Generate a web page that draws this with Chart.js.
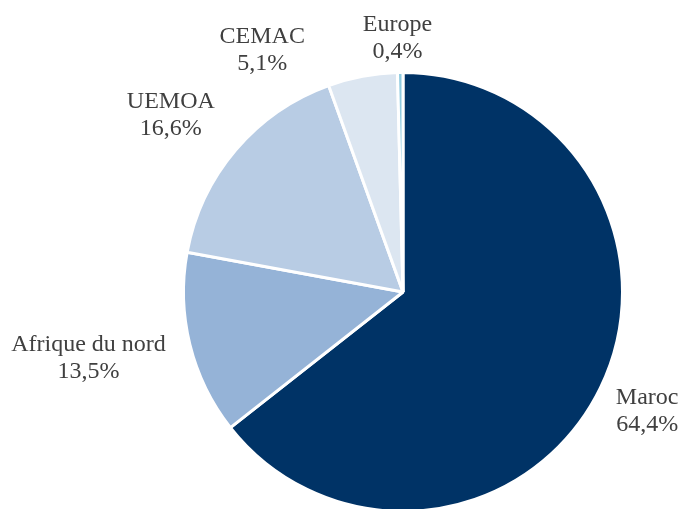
<!DOCTYPE html>
<html>
<head>
<meta charset="utf-8">
<script src="https://cdn.jsdelivr.net/npm/chart.js@4"></script>
<style>
  html, body { margin: 0; padding: 0; background: #fff; overflow: hidden; }
  #wrap { position: relative; width: 685px; height: 515px; }
</style>
</head>
<body>
<div id="wrap"><canvas id="pieChart"></canvas></div>
<script>
// data
const regions = ['Maroc', 'Afrique du nord', 'UEMOA', 'CEMAC', 'Europe'];
const shares = [64.4, 13.5, 16.6, 5.1, 0.4];
const sliceColors = ['#003366', '#95b3d7', '#b8cce4', '#dce6f1', '#8fcbe0'];

// small nudges for labels Excel moved to avoid overlap
const labelShift = [[-3, 1], [-3, 1], [-13, -2], [-88, 24], [-2, 17]];

const fmt = v => v.toFixed(1).replace('.', ',') + '%';

const outsideLabels = {
  id: 'outsideLabels',
  afterDatasetsDraw(chart) {
    const ctx = chart.ctx;
    const arcs = chart.getDatasetMeta(0).data;
    ctx.save();
    ctx.font = '24px "Liberation Serif", "Times New Roman", serif';
    ctx.fillStyle = '#404040';
    ctx.textAlign = 'center';
    ctx.textBaseline = 'middle';
    const lineH = 27;
    arcs.forEach((arc, i) => {
      const p = arc.getProps(['x', 'y', 'startAngle', 'endAngle', 'outerRadius'], true);
      const mid = (p.startAngle + p.endAngle) / 2;
      const dx = Math.cos(mid), dy = Math.sin(mid);
      const lines = [regions[i], fmt(shares[i])];
      const w = Math.max(...lines.map(t => ctx.measureText(t).width));
      const h = lineH * lines.length;
      const R = p.outerRadius + 24;
      const cx = p.x + dx * R + dx * w / 2 + labelShift[i][0];
      const cy = p.y + dy * R + dy * h / 2 + labelShift[i][1];
      lines.forEach((t, k) => {
        ctx.fillText(t, cx, cy - h / 2 + lineH * (k + 0.5));
      });
    });
    ctx.restore();
  }
};

const ctx = document.getElementById('pieChart').getContext('2d');
new Chart(ctx, {
  type: 'pie',
  data: {
    labels: regions,
    datasets: [{
      data: shares,
      backgroundColor: sliceColors,
      borderColor: '#ffffff',
      borderWidth: 3
    }]
  },
  options: {
    responsive: true,
    maintainAspectRatio: false,
    animation: false,
    layout: { padding: { left: 182, right: 61, top: 71, bottom: 2 } },
    plugins: {
      legend: { display: false },
      tooltip: { enabled: false }
    }
  },
  plugins: [outsideLabels]
});
</script>
</body>
</html>
